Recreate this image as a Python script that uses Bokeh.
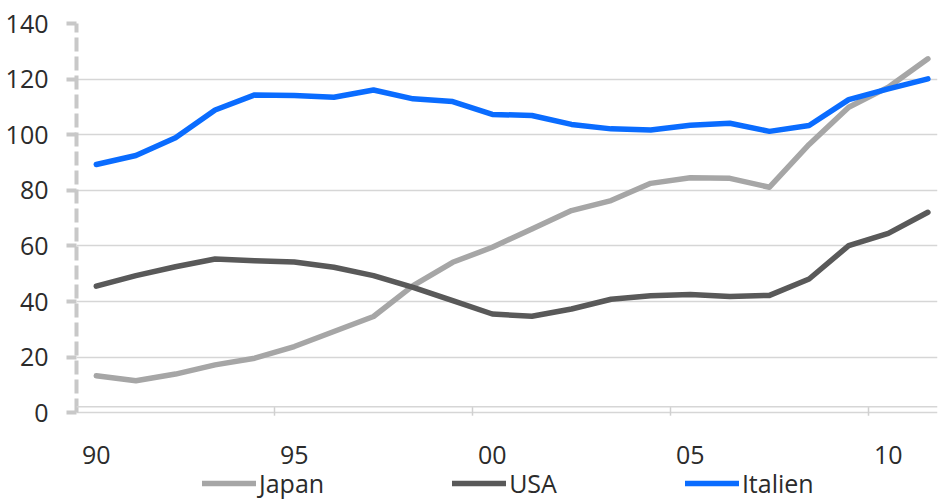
from bokeh.plotting import figure
from bokeh.models import (FixedTicker, Legend, LegendItem, Span, Range1d)
from bokeh.core.properties import value
from bokeh.embed import file_html
from bokeh.resources import INLINE

# ---- data ----
years = list(range(1990, 2012))
japan = [13.3, 11.5, 13.9, 17.2, 19.6, 23.8, 29.2, 34.6, 45.7, 54.1, 59.5,
         66.1, 72.7, 76.3, 82.5, 84.5, 84.3, 81.1, 96.5, 109.9, 117.1, 127.3]
usa = [45.5, 49.3, 52.5, 55.3, 54.7, 54.2, 52.3, 49.3, 45.1, 40.3, 35.5,
       34.7, 37.3, 40.8, 42.1, 42.5, 41.8, 42.2, 48.1, 60.1, 64.5, 72.1]
italien = [89.3, 92.5, 98.9, 108.9, 114.3, 114.1, 113.5, 116.1, 112.9, 111.9, 107.3,
           106.9, 103.7, 102.1, 101.7, 103.4, 104.1, 101.2, 103.3, 112.6, 116.5, 120.1]
series_names = ["Japan", "USA", "Italien"]
tick_years = [1990, 1995, 2000, 2005, 2010]
tick_labels = ["90", "95", "00", "05", "10"]
y_ticks = [0, 20, 40, 60, 80, 100, 120, 140]

colors = ["#A6A6A6", "#595959", "#0A6CFF"]
FONT = "Open Sans"
TXT = "#2b2b2b"

# layout (pixels)
FRAME_W, FRAME_H = 861, 479
PX_PER_UNIT = 389.2 / 140.0
Y_TOP = y_ticks[-1]
Y_BOTTOM = Y_TOP - FRAME_H / PX_PER_UNIT
AXIS_LINE_Y = 6 / PX_PER_UNIT          # Excel draws the category axis line slightly above 0
TICK_DOWN = 3 / PX_PER_UNIT

p = figure(frame_width=FRAME_W, frame_height=FRAME_H,
           min_border_left=76, min_border_right=2, min_border_top=23, min_border_bottom=0,
           x_range=Range1d(1989.5, 1989.5 + FRAME_W / 39.6), y_range=Range1d(Y_BOTTOM, Y_TOP),
           x_axis_location=None,
           output_backend="svg", toolbar_location=None)
p.outline_line_color = None
p.background_fill_color = "white"
p.border_fill_color = "white"

# grid
p.xgrid.grid_line_color = None
p.ygrid.ticker = FixedTicker(ticks=y_ticks)
p.ygrid.grid_line_color = "#D6D6D6"
p.ygrid.grid_line_width = 1.5

# y axis
ya = p.yaxis[0]
ya.ticker = FixedTicker(ticks=y_ticks)
ya.bounds = (y_ticks[0], y_ticks[-1])
ya.axis_line_color = "#C8C8C8"
ya.axis_line_width = 4
ya.axis_line_dash = "14 5"
ya.major_tick_line_color = "#C8C8C8"
ya.major_tick_line_width = 4
ya.major_tick_out = 10
ya.major_tick_in = 0
ya.minor_tick_line_color = None
ya.major_label_standoff = 18
ya.major_label_text_font = FONT
ya.major_label_text_font_size = "25px"
ya.major_label_text_color = TXT

# category axis line, tick marks between categories, labels
p.add_layout(Span(location=AXIS_LINE_Y, dimension="width", line_color="#D6D6D6", line_width=1.5))
bounds = [t - 0.5 for t in tick_years[1:]]
p.segment(x0=bounds, x1=bounds, y0=[-TICK_DOWN] * len(bounds), y1=[AXIS_LINE_Y] * len(bounds),
          line_color="#D0D0D0", line_width=1.5)
p.text(x=tick_years, y=[y_ticks[0]] * len(tick_years), text=tick_labels,
       y_offset=42.5, text_align="center", text_baseline="middle",
       text_font=value(FONT), text_font_size="25px", text_color=TXT)

renderers = []
for vals, c in zip([japan, usa, italien], colors):
    r = p.line(years, vals, line_color=c, line_width=5.5, line_cap="round", line_join="round")
    renderers.append(r)

legend = Legend(items=[LegendItem(label=n, renderers=[r]) for n, r in zip(series_names, renderers)],
                orientation="horizontal", location=(126, 2),
                label_text_font=FONT, label_text_font_size="25px", label_text_color=TXT,
                label_height=20, glyph_width=54, glyph_height=20, label_standoff=3, spacing=128,
                padding=0, margin=0, border_line_color=None, background_fill_alpha=0)
p.add_layout(legend, "center")

open("out.html", "w").write(file_html(p, INLINE))
